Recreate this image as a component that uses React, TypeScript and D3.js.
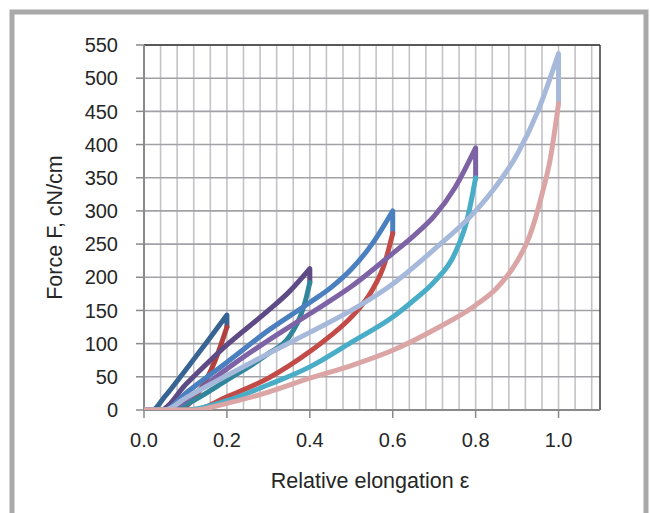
import React from "react";
import * as d3 from "d3";

type Pt = [number, number];

const yTicks = [0, 50, 100, 150, 200, 250, 300, 350, 400, 450, 500, 550];
const xTicks = [0, 0.2, 0.4, 0.6, 0.8, 1.0];
const xMinor = d3.range(0, 28).map((i) => +(i * 0.04).toFixed(2));

const darkBlue02: Pt[] = [[0, 0], [0.02, 0], [0.05, 20], [0.1, 60], [0.15, 101], [0.2, 143], [0.2, 125]];
const darkRed02: Pt[] = [[0, 0], [0.08, 0], [0.13, 25], [0.17, 72], [0.2, 125]];
const darkPurple04: Pt[] = [[0, 0], [0.04, 0], [0.1, 38], [0.2, 98], [0.3, 150], [0.35, 178], [0.4, 213], [0.4, 192]];
const darkTeal04: Pt[] = [[0, 0], [0.07, 0], [0.1, 8], [0.2, 45], [0.3, 85], [0.35, 110], [0.38, 146], [0.39, 166], [0.4, 192]];
const blue06: Pt[] = [[0, 0], [0.05, 0], [0.1, 25], [0.2, 72], [0.3, 120], [0.4, 162], [0.45, 184], [0.5, 212], [0.55, 250], [0.6, 300], [0.6, 266]];
const red06: Pt[] = [[0, 0], [0.12, 0], [0.2, 20], [0.3, 48], [0.4, 88], [0.45, 112], [0.5, 140], [0.55, 180], [0.58, 220], [0.6, 266]];
const purple08: Pt[] = [[0, 0], [0.06, 0], [0.1, 15], [0.2, 62], [0.3, 105], [0.4, 145], [0.5, 186], [0.6, 236], [0.65, 262], [0.7, 292], [0.75, 335], [0.8, 395], [0.8, 350]];
const cyan08: Pt[] = [[0, 0], [0.1, 0], [0.2, 14], [0.3, 38], [0.4, 65], [0.5, 102], [0.6, 140], [0.65, 165], [0.7, 193], [0.75, 236], [0.78, 288], [0.8, 350]];
const lightBlue10: Pt[] = [[0, 0], [0.05, 0], [0.1, 18], [0.2, 52], [0.3, 85], [0.4, 117], [0.5, 150], [0.6, 190], [0.7, 242], [0.8, 300], [0.85, 338], [0.9, 385], [0.95, 450], [1.0, 537], [1.0, 462]];
const pink10: Pt[] = [[0, 0], [0.12, 0], [0.2, 10], [0.3, 27], [0.4, 48], [0.5, 67], [0.6, 90], [0.7, 121], [0.8, 158], [0.85, 183], [0.9, 224], [0.93, 262], [0.96, 325], [0.98, 378], [1.0, 462]];

const seriesList: { data: Pt[]; color: string }[] = [
  { data: darkBlue02, color: "#386494" },
  { data: darkRed02, color: "#B2403C" },
  { data: darkPurple04, color: "#5E4A84" },
  { data: darkTeal04, color: "#31869C" },
  { data: blue06, color: "#4A7FC0" },
  { data: red06, color: "#C24B47" },
  { data: purple08, color: "#7D62A6" },
  { data: cyan08, color: "#4AADC8" },
  { data: lightBlue10, color: "#A7B9DA" },
  { data: pink10, color: "#DAA5A4" },
];

export default function App() {
  const W = 650, H = 513;
  const left = 144, right = 600, top = 45, bottom = 410;
  const x = d3.scaleLinear().domain([0, 1.1]).range([left, right]);
  const y = d3.scaleLinear().domain([0, 550]).range([bottom, top]);
  const line = d3
    .line<Pt>()
    .x((d) => x(d[0]))
    .y((d) => y(d[1]))
    .curve(d3.curveMonotoneX);
  const pathFor = (data: Pt[]) => {
    const n = data.length;
    if (n >= 2 && data[n - 1][0] === data[n - 2][0]) {
      const rise = data.slice(0, n - 1);
      const last = data[n - 1];
      return (line(rise) || "") + `L${x(last[0])},${y(last[1])}`;
    }
    return line(data) || "";
  };
  const font = "'Liberation Sans', Arial, sans-serif";
  const fs = 20;
  const fsTitle = 21.5;
  return (
    <svg width={W} height={H} style={{ position: "absolute", left: 0, top: 0, background: "#fff" }}>
      <rect x={12} y={12} width={634} height={530} fill="#fff" stroke="#A9A9A9" strokeWidth={5} />
      <defs>
        <clipPath id="plotClip">
          <rect x={left} y={top - 10} width={right - left} height={bottom - top + 10} />
        </clipPath>
      </defs>
      {xMinor.map((v) => (
        <line key={"vx" + v} x1={x(v)} x2={x(v)} y1={top} y2={bottom} stroke="#C4C4C8" strokeWidth={1.6} />
      ))}
      {yTicks.map((v) => (
        <line key={"hy" + v} x1={left} x2={right} y1={y(v)} y2={y(v)} stroke="#A2A2A6" strokeWidth={1.6} />
      ))}
      <line x1={left} x2={right} y1={top} y2={top} stroke="#3A3A3A" strokeWidth={1.5} />
      <line x1={right} x2={right} y1={top} y2={bottom} stroke="#3A3A3A" strokeWidth={1.5} />
      <line x1={left} x2={left} y1={top} y2={bottom} stroke="#8A8A8A" strokeWidth={2} />
      <line x1={left} x2={right} y1={bottom} y2={bottom} stroke="#8A8A8A" strokeWidth={2} />
      {yTicks.map((v) => (
        <g key={"yt" + v}>
          <line x1={left - 8} x2={left} y1={y(v)} y2={y(v)} stroke="#8A8A8A" strokeWidth={1.5} />
          <text x={118} y={y(v)} dy="0.36em" textAnchor="end" fontFamily={font} fontSize={fs} fill="#262626">
            {v}
          </text>
        </g>
      ))}
      {xTicks.map((v) => (
        <g key={"xt" + v}>
          <line x1={x(v)} x2={x(v)} y1={bottom} y2={bottom + 8} stroke="#8A8A8A" strokeWidth={1.5} />
          <text x={x(v)} y={447} textAnchor="middle" fontFamily={font} fontSize={fs} fill="#262626">
            {v.toFixed(1)}
          </text>
        </g>
      ))}
      <g clipPath="url(#plotClip)">
        {seriesList.map((s, i) => (
          <path
            key={i}
            d={pathFor(s.data)}
            fill="none"
            stroke={s.color}
            strokeWidth={5}
            strokeLinejoin="round"
            strokeLinecap="round"
          />
        ))}
      </g>
      <text x={370} y={488} textAnchor="middle" fontFamily={font} fontSize={fsTitle} fill="#262626">
        Relative elongation ε
      </text>
      <text
        transform={`translate(62,${(top + bottom) / 2}) rotate(-90)`}
        textAnchor="middle"
        fontFamily={font}
        fontSize={fsTitle}
        fill="#262626"
      >
        Force F, cN/cm
      </text>
    </svg>
  );
}
